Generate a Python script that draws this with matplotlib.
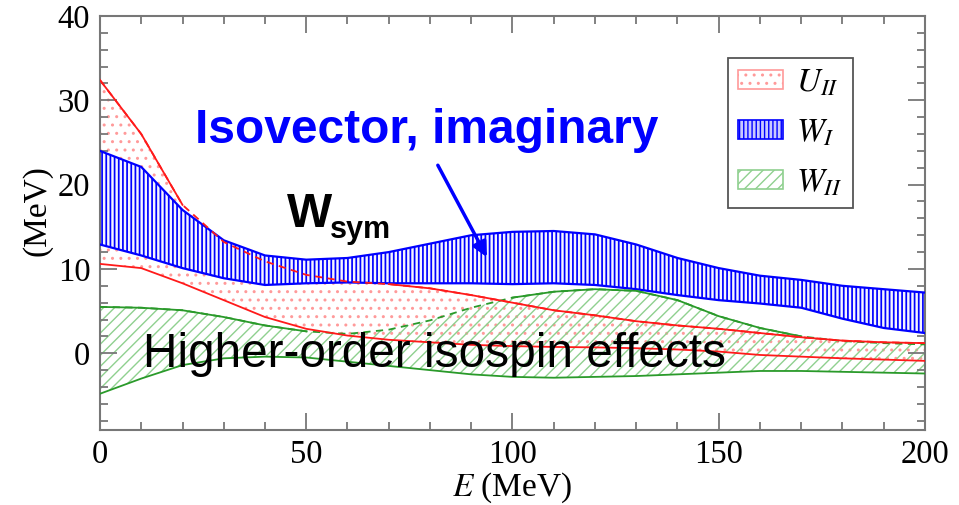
import matplotlib
matplotlib.use('Agg')
import matplotlib.pyplot as plt
import matplotlib.patches as mpatches
import numpy as np

# energies (MeV)
E = np.arange(0, 201, 10)

# W_I band (blue, isovector imaginary)
wi_hi = [24.0, 22.1, 17.0, 13.4, 11.6, 11.1, 11.3, 12.0, 13.0, 14.0, 14.4,
         14.5, 14.1, 12.9, 11.3, 10.1, 9.2, 8.7, 8.0, 7.6, 7.2]
wi_lo = [12.9, 11.6, 10.1, 8.9, 8.1, 8.3, 8.4, 8.3, 8.3, 8.3, 8.2,
         8.3, 8.1, 7.6, 6.9, 6.3, 5.9, 5.4, 4.1, 3.0, 2.4]

# U_II band (red)
uii_hi = [32.4, 26.0, 17.6, 13.2, 10.9, 9.3, 8.5, 8.2, 7.7, 6.9, 6.0,
          5.1, 4.5, 3.8, 3.3, 2.9, 2.4, 1.9, 1.5, 1.3, 1.2]
uii_lo = [10.6, 10.1, 8.3, 6.3, 4.3, 2.9, 2.1, 1.6, 1.3, 1.0, 0.85,
          0.75, 0.7, 0.6, 0.45, 0.2, -0.2, -0.4, -0.6, -0.75, -0.9]

# W_II band (green)
wii_hi = [5.5, 5.4, 5.1, 4.3, 3.3, 2.6, 2.3, 2.8, 3.9, 5.4, 6.6,
          7.3, 7.6, 7.4, 6.3, 4.4, 3.0, 2.0, 1.45, 1.2, 1.05]
wii_lo = [-4.8, -3.0, -1.4, -0.6, -0.4, -0.5, -1.0, -1.5, -2.0, -2.5, -2.8,
          -2.9, -2.8, -2.7, -2.5, -2.3, -2.1, -2.1, -2.2, -2.3, -2.4]

wi_hi, wi_lo = np.array(wi_hi), np.array(wi_lo)
uii_hi, uii_lo = np.array(uii_hi), np.array(uii_lo)
wii_hi, wii_lo = np.array(wii_hi), np.array(wii_lo)

RED = '#ff1a1a'
BLUE = '#0000ff'
GREEN = '#2a9a2a'
RED_H = '#ff9a9a'
GREEN_H = '#8fd08f'

plt.rcParams['font.family'] = ['Liberation Serif', 'DejaVu Serif']
plt.rcParams['mathtext.fontset'] = 'stix'
plt.rcParams['hatch.linewidth'] = 1.0

fig = plt.figure(figsize=(9.59, 5.05), dpi=100)
ax = fig.add_axes([100 / 959, 75 / 505, 825 / 959, 414 / 505])

# bands
ax.fill_between(E, uii_lo, uii_hi, facecolor='none', edgecolor=RED_H,
                hatch='..', linewidth=0, zorder=1)
ax.fill_between(E, wii_lo, wii_hi, facecolor='none', edgecolor=GREEN_H,
                hatch='///', linewidth=0, zorder=1)
with plt.rc_context({'hatch.linewidth': 1.25}):
    ax.fill_between(E, wi_lo, wi_hi, facecolor='#f4f4ff', edgecolor=BLUE,
                    hatch='||||', linewidth=0, zorder=2)

# blue band edges
ax.plot(E, wi_hi, color=BLUE, lw=1.6, zorder=3)
ax.plot(E, wi_lo, color=BLUE, lw=1.6, zorder=3)

# red edges, dashed where hidden inside the blue band
red_in = (uii_hi < wi_hi) & (uii_hi > wi_lo)
ax.plot(E, uii_hi, color=RED, lw=1.3, ls=(0, (4, 3)), zorder=4)
ax.plot(E, np.ma.masked_where(red_in, uii_hi), color=RED, lw=1.3, zorder=4)
ax.plot(E, uii_lo, color=RED, lw=1.3, zorder=4)

# green edges, dashed where inside the red band
green_in = (wii_hi < uii_hi) & (wii_hi > uii_lo)
ax.plot(E, wii_hi, color=GREEN, lw=1.3, ls=(0, (4, 3)), zorder=3)
ax.plot(E, np.ma.masked_where(green_in, wii_hi), color=GREEN, lw=1.3, zorder=3)
ax.plot(E, wii_lo, color=GREEN, lw=1.3, zorder=3)

ax.set_xlim(0, 200)
ax.set_ylim(-9.1, 40)
ax.set_xticks([0, 50, 100, 150, 200])
ax.set_yticks([0, 10, 20, 30, 40])
ax.set_xticks(np.arange(0, 201, 10), minor=True)
ax.set_yticks(np.arange(-8, 41, 2), minor=True)
ax.tick_params(which='both', direction='in', top=True, right=True,
               color='#777777', labelsize=23.5, width=1.3)
ax.tick_params(which='major', length=12, pad=7)
ax.tick_params(which='minor', length=6)
for s in ax.spines.values():
    s.set_color('#777777')
    s.set_linewidth(1.5)

ax.set_xlabel(r'$E$ (MeV)', fontsize=24, labelpad=0)
ax.set_ylabel('(MeV)', fontsize=24)
ax.yaxis.set_label_coords(-0.057, 0.531)

# legend with outlined hatch swatches
handles = [
    mpatches.Patch(facecolor='white', edgecolor=RED_H, hatch='..', lw=1.2),
    mpatches.Patch(facecolor='#c8c8ff', edgecolor=BLUE, hatch='||||', lw=1.2),
    mpatches.Patch(facecolor='white', edgecolor=GREEN_H, hatch='///', lw=1.2),
]
labels = [r'$U_{II}$', r'$W_I$', r'$W_{II}$']
leg = ax.legend(handles, labels, loc='upper right',
                bbox_to_anchor=(0.9127, 0.8986), borderaxespad=0, fontsize=24,
                fancybox=False, framealpha=1, edgecolor='#555555',
                handlelength=1.35, handleheight=0.5, handletextpad=0.4,
                labelspacing=0.58, borderpad=0.3)
leg.get_frame().set_linewidth(1.3)

# annotations
sans = ['Liberation Sans', 'DejaVu Sans']
ax.text(23.0, 24.9, 'Isovector, imaginary', color=BLUE, fontsize=34.5,
        fontweight='bold', family=sans, va='baseline', zorder=6)
ax.text(45.3, 15.0, 'W', color='black', fontsize=34.5, fontweight='bold',
        family=sans, va='baseline', zorder=6)
ax.text(55.8, 13.7, 'sym', color='black', fontsize=22, fontweight='bold',
        family=sans, va='baseline', zorder=6)
ax.text(10.4, -1.66, 'Higher-order isospin effects', color='black',
        fontsize=34.4, family=sans, va='baseline', zorder=6)
ax.annotate('', xy=(93.8, 11.4), xytext=(81.9, 22.3),
            arrowprops=dict(arrowstyle='-|>', color=BLUE, lw=2.5,
                            mutation_scale=22, shrinkA=0, shrinkB=0),
            zorder=6)

fig.savefig('out.png', dpi=100)
